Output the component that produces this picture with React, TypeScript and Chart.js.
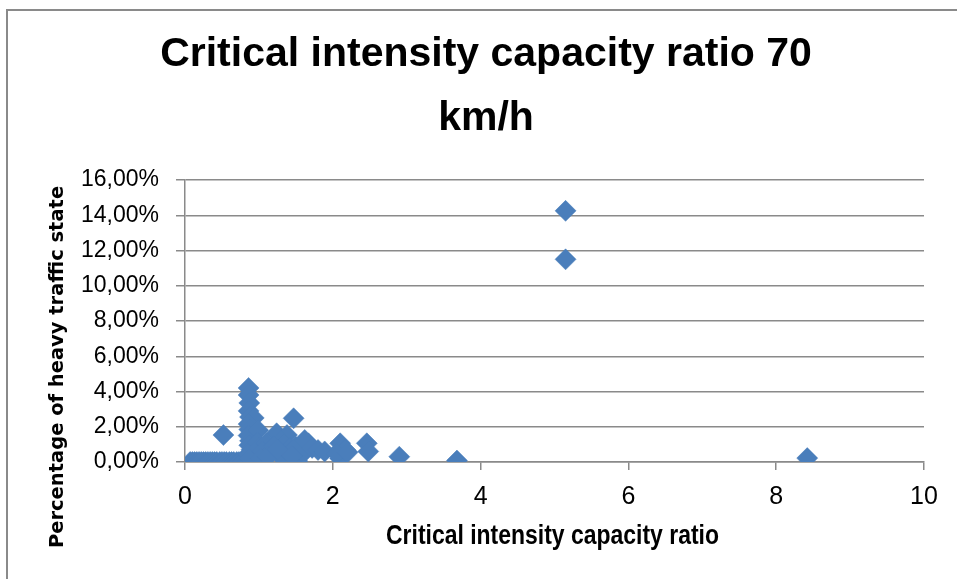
import React, { useEffect, useRef } from "react";
import { Chart, registerables } from "chart.js";

Chart.register(...registerables);

const chartTitle = ["Critical intensity capacity ratio 70", "km/h"];
const xAxisTitle = "Critical intensity capacity ratio";
const yAxisTitle = "Percentage of heavy traffic state";

const xTickMin = 0;
const xTickMax = 10;
const xTickStep = 2;
const yTickMin = 0;
const yTickMax = 16;
const yTickStep = 2;

// critical intensity / capacity ratio (x)
const ratioValues = [
  0.07, 0.1, 0.13, 0.16, 0.19, 0.22, 0.25, 0.28, 0.31, 0.34, 0.37, 0.4, 0.43, 0.47,
  0.5, 0.53, 0.56, 0.6, 0.63, 0.66, 0.7, 0.73, 0.77, 0.8, 0.84, 0.87, 0.92, 0.97,
  0.86, 0.86, 0.87, 0.86, 0.88, 0.93, 0.86, 0.87, 0.86, 0.88, 0.87, 0.9, 0.86, 0.88,
  0.99, 0.98, 1.0,
  0.52, 1.47, 1.24, 1.38, 1.3, 1.1, 1.05, 1.15, 1.2, 1.35, 1.42, 1.5, 1.52, 1.6,
  1.67, 1.62, 1.72, 1.8, 1.89, 2.1, 2.17, 2.1, 2.05, 2.2, 2.46, 2.48, 1.3, 1.02,
  1.12, 1.25, 1.45, 2.9, 3.68, 5.15, 5.15, 8.42,
];

// percentage of heavy traffic state (y, in %)
const heavyShareValues = [
  0, 0, 0, 0, 0, 0, 0, 0, 0, 0, 0, 0, 0, 0,
  0, 0, 0, 0, 0, 0, 0, 0, 0, 0, 0, 0, 0, 0,
  4.2, 3.8, 3.35, 2.9, 2.55, 2.5, 2.15, 1.85, 1.5, 1.2, 0.95, 0.7, 0.45, 0.2,
  1.8, 1.1, 0.8,
  1.53, 2.48, 1.63, 1.53, 1.2, 1.06, 0.6, 0.5, 0.9, 1.0, 0.8, 0.87, 0.05, 0.5,
  1.06, 1.25, 0.8, 0.68, 0.6, 1.06, 0.68, 0.2, 0.5, 0.55, 1.06, 0.6, 0.3, 0.2,
  0.3, 0.7, 0.35, 0.3, 0.08, 14.25, 11.5, 0.22,
];

const markerColor = "#4A7EBB";
const gridColor = "#8A8A8A";

// axis titles drawn as real canvas text (condensed like the original)
const axisTitlesPlugin = {
  id: "axisTitlesCustom",
  afterDraw(chart: any) {
    const { ctx, chartArea } = chart;
    ctx.save();
    ctx.fillStyle = "#000";
    ctx.textAlign = "center";
    ctx.textBaseline = "middle";

    // y axis title
    ctx.save();
    ctx.translate(chartArea.left - 127, chartArea.bottom - 95);
    ctx.rotate(-Math.PI / 2);
    ctx.font = "bold 19.5px 'DejaVu Sans'";
    ctx.fillText(yAxisTitle, 0, 0);
    ctx.restore();

    // x axis title
    ctx.save();
    ctx.translate((chartArea.left + chartArea.right) / 2 - 2, chartArea.bottom + 74);
    ctx.scale(0.82, 1);
    ctx.font = "bold 28px 'Liberation Sans'";
    ctx.fillText(xAxisTitle, 0, 0);
    ctx.restore();

    ctx.restore();
  },
};

export default function App() {
  const canvasRef = useRef<HTMLCanvasElement | null>(null);

  useEffect(() => {
    const canvas = canvasRef.current;
    if (!canvas) return;
    const points = ratioValues.map((x, i) => ({ x, y: heavyShareValues[i] }));
    const chart = new Chart(canvas, {
      type: "scatter",
      data: {
        datasets: [
          {
            data: points,
            pointStyle: "rectRot",
            pointRadius: 10.5,
            pointHoverRadius: 10.5,
            pointBackgroundColor: markerColor,
            pointBorderColor: markerColor,
            pointBorderWidth: 0.5,
          },
        ],
      },
      options: {
        animation: false,
        responsive: false,
        devicePixelRatio: 1,
        layout: { padding: { left: 48, right: 33, top: 0, bottom: 26 } },
        plugins: {
          legend: { display: false },
          tooltip: { enabled: false },
          title: {
            display: true,
            text: chartTitle,
            color: "#000",
            font: { family: "'Liberation Sans'", size: 41, weight: "bold", lineHeight: 64 / 41 },
            padding: { top: 23, bottom: 29 },
          },
        },
        scales: {
          x: {
            type: "linear",
            min: xTickMin,
            max: xTickMax,
            afterFit(scale: any) {
              scale.height = 91;
            },
            ticks: {
              stepSize: xTickStep,
              color: "#000",
              padding: 12,
              font: { family: "'Liberation Sans'", size: 25 },
            },
            grid: {
              drawOnChartArea: false,
              drawTicks: true,
              tickLength: 8,
              color: gridColor,
              lineWidth: 1.5,
            },
            border: { display: true, color: gridColor, width: 1.5 },
            title: { display: false },
          },
          y: {
            type: "linear",
            min: yTickMin,
            max: yTickMax,
            afterFit(scale: any) {
              scale.width = 137;
            },
            ticks: {
              stepSize: yTickStep,
              color: "#000",
              padding: 17,
              font: { family: "'Liberation Sans'", size: 23 },
              callback: (v: any) => Number(v).toFixed(2).replace(".", ",") + "%",
            },
            grid: {
              drawOnChartArea: true,
              drawTicks: true,
              tickLength: 9,
              color: gridColor,
              lineWidth: 1.5,
            },
            border: { display: true, color: gridColor, width: 1.5 },
          },
        },
      },
      plugins: [axisTitlesPlugin],
    });
    return () => chart.destroy();
  }, []);

  return (
    <>
      <div
        style={{
          position: "absolute",
          left: 6,
          top: 9,
          width: 951,
          height: 570,
          boxSizing: "border-box",
          borderTop: "2px solid #8A8A8A",
          borderLeft: "2px solid #8A8A8A",
        }}
      />
      <canvas
        ref={canvasRef}
        width={957}
        height={579}
        style={{ position: "absolute", left: 0, top: 0, width: 957, height: 579, display: "block" }}
      />
    </>
  );
}
